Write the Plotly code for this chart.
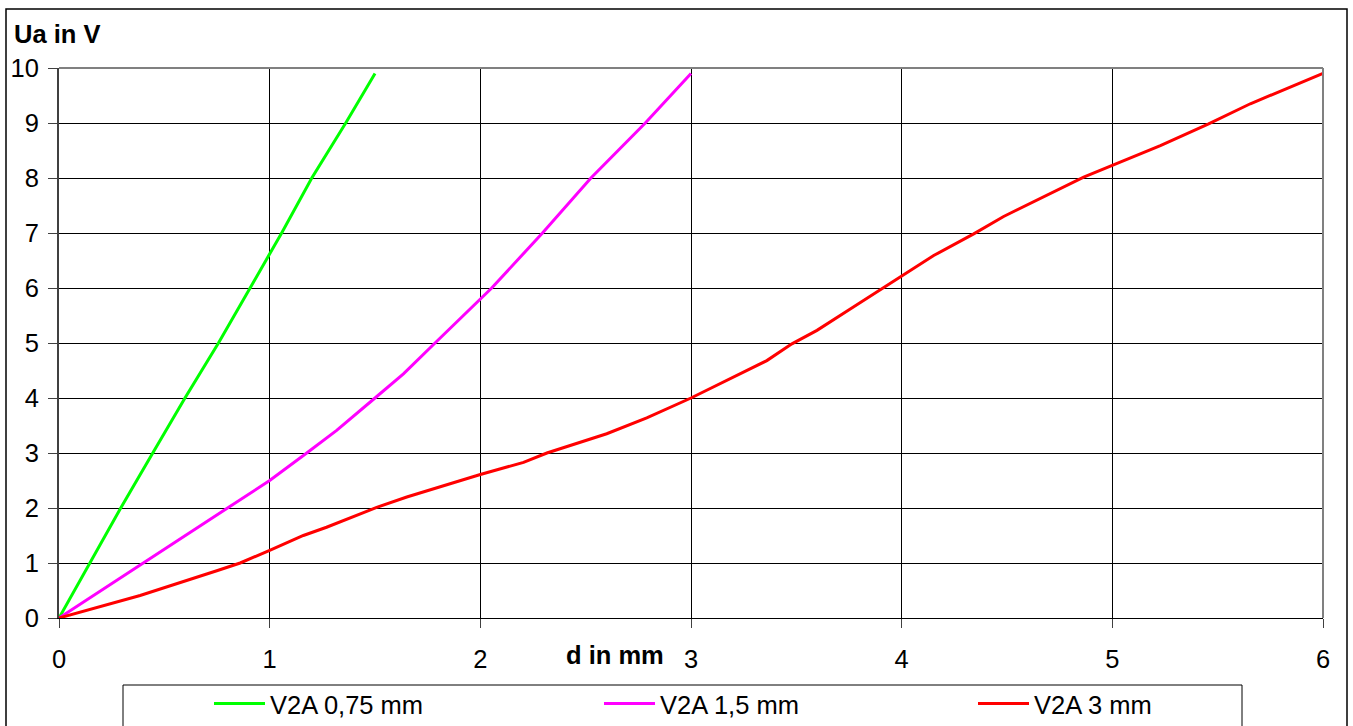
import plotly.graph_objects as go

# Data
d_075 = [0, 0.147, 0.293, 0.445, 0.598, 0.757, 0.907, 1.057, 1.200, 1.361, 1.50]
u_075 = [0, 1.0, 2.0, 3.0, 4.0, 5.0, 6.0, 7.0, 8.0, 9.0, 9.9]

d_15 = [0, 0.40, 0.804, 1.0, 1.176, 1.318, 1.50, 1.635, 1.785, 2.0, 2.054, 2.295, 2.525, 2.783, 3.0]
u_15 = [0, 1.0, 2.0, 2.5, 3.0, 3.41, 4.0, 4.44, 5.0, 5.8, 6.0, 7.0, 8.0, 9.0, 9.9]

d_3 = [0, 0.385, 0.749, 0.86, 1.0, 1.16, 1.27, 1.508, 1.651, 1.904, 2.0, 2.205, 2.316,
       2.6, 2.79, 3.0, 3.2, 3.36, 3.479, 3.598, 3.756, 3.906, 4.0, 4.152, 4.342, 4.484,
       4.864, 5.006, 5.228, 5.457, 5.655, 6.0]
u_3 = [0, 0.41, 0.86, 1.0, 1.23, 1.5, 1.65, 2.01, 2.2, 2.5, 2.61, 2.83, 3.0,
       3.35, 3.64, 4.0, 4.38, 4.68, 4.985, 5.23, 5.62, 5.985, 6.21, 6.59, 6.985, 7.3,
       8.015, 8.245, 8.59, 8.985, 9.35, 9.9]

names = ["V2A 0,75 mm", "V2A 1,5 mm", "V2A 3 mm"]
colors = ["#00FF00", "#FF00FF", "#FF0000"]
x_ticks = [0, 1, 2, 3, 4, 5, 6]
y_ticks = [0, 1, 2, 3, 4, 5, 6, 7, 8, 9, 10]

W, H = 1353, 726
ML, MR, MT, MB = 59, 30, 68, 108
PW = W - ML - MR
PH = H - MT - MB


def px(xp):
    return (xp - ML) / PW


def py(yp):
    return (H - MB - yp) / PH


font = "Liberation Sans, Arial, sans-serif"
FS = 25.5
legend_ids = ["legend", "legend2", "legend3"]
legend_left = [209, 599, 973]   # pixel left of each legend entry

fig = go.Figure()
for xs, ys, n, c, lg in zip([d_075, d_15, d_3], [u_075, u_15, u_3], names, colors, legend_ids):
    fig.add_trace(go.Scatter(x=xs, y=ys, mode="lines", name=n, legend=lg,
                             line=dict(color=c, width=3)))

legend_cfg = {}
for lg, xl in zip(legend_ids, legend_left):
    legend_cfg[lg] = dict(orientation="h", x=px(xl), y=py(704), xanchor="left",
                          yanchor="middle", bgcolor="rgba(0,0,0,0)", borderwidth=0,
                          itemwidth=51,
                          font=dict(family=font, size=FS, color="black"))

fig.update_layout(
    width=W, height=H,
    margin=dict(l=ML, r=MR, t=MT, b=MB, pad=0, autoexpand=False),
    paper_bgcolor="white", plot_bgcolor="white",
    font=dict(family=font, size=FS, color="black"),
    showlegend=True,
    **legend_cfg,
    xaxis=dict(range=[0, 6], tickvals=x_ticks, ticktext=[str(v) for v in x_ticks],
               showgrid=True, gridcolor="black", gridwidth=1, automargin=False,
               zeroline=False, showline=True, linecolor="black", linewidth=1,
               ticks="outside", ticklen=9, tickcolor="#404040", tickwidth=1,
               ticklabelstandoff=9,
               tickfont=dict(family=font, size=FS, color="black")),
    yaxis=dict(range=[0, 10], tickvals=y_ticks, ticktext=[str(v) for v in y_ticks],
               showgrid=True, gridcolor="black", gridwidth=1, automargin=False,
               zeroline=False, showline=True, linecolor="#404040", linewidth=2,
               ticks="outside", ticklen=9, tickcolor="#404040", tickwidth=1,
               ticklabelstandoff=4,
               tickfont=dict(family=font, size=FS, color="black")),
    shapes=[
        # outer chart border
        dict(type="rect", xref="paper", yref="paper",
             x0=px(6), x1=px(1347), y0=py(760), y1=py(9),
             line=dict(color="black", width=1.5), fillcolor="rgba(0,0,0,0)", layer="below"),
        # plot area border top/right (gray)
        dict(type="line", xref="paper", yref="paper", x0=0, x1=1, y0=1, y1=1,
             line=dict(color="#808080", width=2)),
        dict(type="line", xref="paper", yref="paper", x0=1, x1=1, y0=0, y1=1,
             line=dict(color="#808080", width=2)),
        # legend box
        dict(type="rect", xref="paper", yref="paper",
             x0=px(123), x1=px(1242), y0=py(760), y1=py(685),
             line=dict(color="black", width=1), fillcolor="rgba(0,0,0,0)"),
    ],
    annotations=[
        dict(text="<b>Ua in V</b>", xref="paper", yref="paper", x=px(12), y=py(34),
             xanchor="left", yanchor="middle", showarrow=False,
             font=dict(family=font, size=FS, color="black")),
        dict(text="<b>d in mm</b>", xref="paper", yref="paper", x=px(615), y=py(655),
             xanchor="center", yanchor="middle", showarrow=False,
             font=dict(family=font, size=FS, color="black")),
    ],
)

fig.write_html("out.html", config={"displayModeBar": False},
               post_script="document.body.style.margin='0';document.body.style.padding='0';")
